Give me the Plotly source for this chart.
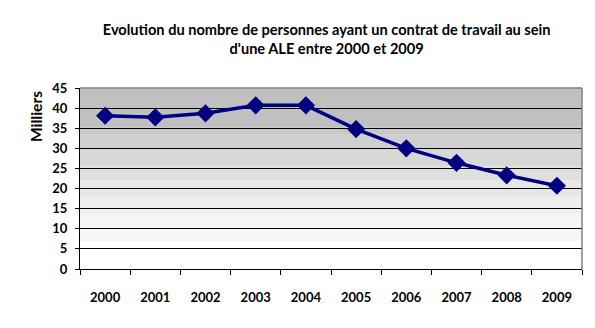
import plotly.graph_objects as go

years = ["2000", "2001", "2002", "2003", "2004", "2005", "2006", "2007", "2008", "2009"]
milliers = [38.1, 37.7, 38.7, 40.7, 40.7, 34.8, 30.0, 26.4, 23.3, 20.7]
y_ticks = [0, 5, 10, 15, 20, 25, 30, 35, 40, 45]

title_text = "Evolution du nombre de personnes ayant un contrat de travail au sein<br>d'une ALE entre 2000 et 2009"
y_title = "Milliers"

# stepped background bands (domain fraction bounds, colour)
bands = [(0.0, 0.155, "#ffffff"), (0.155, 0.304, "#f6f6f6"), (0.304, 0.398, "#efefef"),
         (0.398, 0.492, "#e7e7e7"), (0.492, 0.569, "#dfdfdf"), (0.569, 0.669, "#d7d7d7"),
         (0.669, 0.746, "#cfcfcf"), (0.746, 0.78, "#c8c8c8"), (0.78, 1.0, "#c0c0c0")]

shapes = []
for y0, y1, c in bands:
    shapes.append(dict(type="rect", xref="x domain", yref="y domain", x0=0, x1=1, y0=y0, y1=y1,
                       fillcolor=c, line=dict(width=0), layer="below"))
# grey top and right border
shapes.append(dict(type="line", xref="x domain", yref="y domain", x0=0, x1=1, y0=1, y1=1,
                   line=dict(color="#808080", width=1.5)))
shapes.append(dict(type="line", xref="x domain", yref="y domain", x0=1, x1=1, y0=0, y1=1,
                   line=dict(color="#808080", width=1.5)))

fig = go.Figure()
fig.add_trace(go.Scatter(
    x=years, y=milliers, mode="lines+markers",
    line=dict(color="#000080", width=3.5),
    marker=dict(symbol="diamond", size=14, color="#000080"),
    cliponaxis=False,
))

font_family = "Lato, 'Open Sans', sans-serif"

fig.update_layout(
    width=595, height=328,
    margin=dict(l=80, r=13, t=88, b=59),
    paper_bgcolor="white", plot_bgcolor="rgba(0,0,0,0)",
    showlegend=False,
    shapes=shapes,
    title=dict(text=title_text, x=0.549, xanchor="center", y=0.893, yanchor="top",
               font=dict(family=font_family, size=14.6, color="black", weight="bold")),
    annotations=[dict(text=y_title, textangle=-90, xref="paper", yref="paper",
                      x=(36 - 80) / 502, y=(269 - 117) / 181, xanchor="center", yanchor="middle",
                      showarrow=False,
                      font=dict(family=font_family, size=15.5, color="black", weight="bold"))],
    font=dict(family=font_family, color="black"),
)

fig.update_xaxes(
    type="category", range=[-0.5, 9.5],
    showgrid=False, showline=True, linecolor="black", linewidth=1,
    ticks="outside", ticklen=5, tickcolor="black", tickson="boundaries",
    ticklabelstandoff=16,
    tickfont=dict(family=font_family, size=13, color="black", weight="bold"),
    zeroline=False,
)
fig.update_yaxes(
    range=[0, 45], tickvals=y_ticks,
    showgrid=True, gridcolor="black", gridwidth=1,
    showline=True, linecolor="black", linewidth=1,
    ticks="outside", ticklen=4, tickcolor="black", ticklabelstandoff=5,
    tickfont=dict(family=font_family, size=13, color="black", weight="bold"),
    zeroline=False,
)

fig.write_html("out.html")
